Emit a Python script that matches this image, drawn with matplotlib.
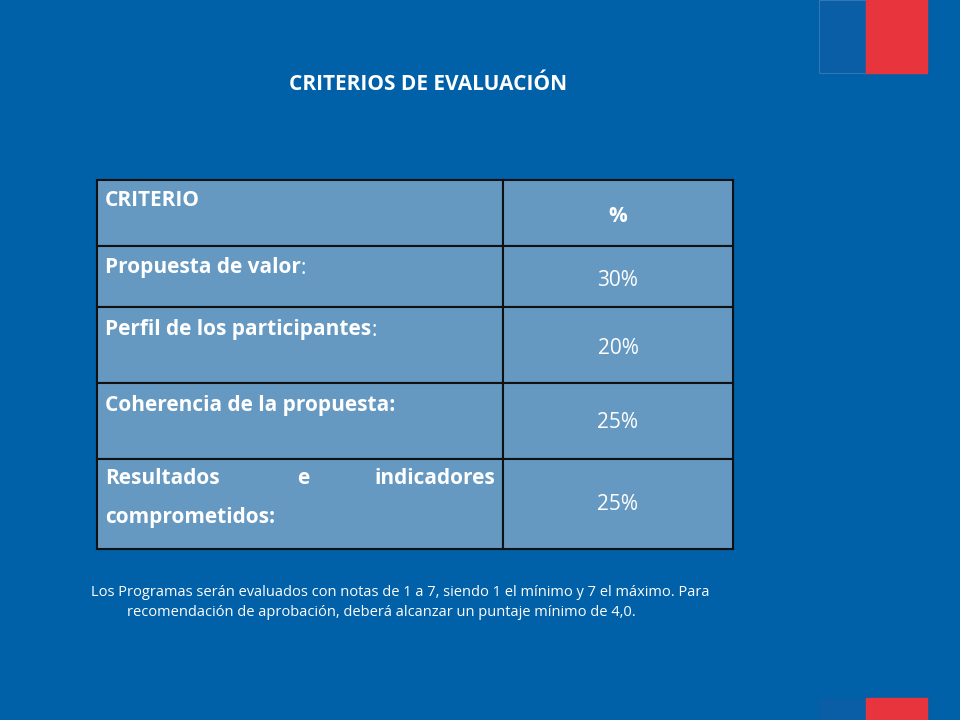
import matplotlib
matplotlib.use("Agg")
import matplotlib.pyplot as plt
from matplotlib.patches import Rectangle

title = "CRITERIOS DE EVALUACIÓN"
header = ["CRITERIO", "%"]
criteria = [["Propuesta de valor", ":"], ["Perfil de los participantes", ":"],
            ["Coherencia de la propuesta:", ""], ["Resultados e indicadores\ncomprometidos:", ""]]
percents = ["30%", "20%", "25%", "25%"]
note1 = "Los Programas serán evaluados con notas de 1 a 7, siendo 1 el mínimo y 7 el máximo. Para"
note2 = "recomendación de aprobación, deberá alcanzar un puntaje mínimo de 4,0."

BG = "#0060A8"
fig = plt.figure(figsize=(9.6, 7.2), dpi=100, facecolor=BG)
ax = fig.add_axes([0, 0, 1, 1])
ax.set_xlim(0, 960); ax.set_ylim(720, 0); ax.axis("off")
ax.add_patch(Rectangle((0, 0), 960, 720, color=BG))
ax.add_patch(Rectangle((819, 0), 47, 73, color="#0A5EA6", ec="#2F78B8", lw=0.8))
ax.add_patch(Rectangle((866, 0), 61, 73, color="#E8343C"))
ax.add_patch(Rectangle((819, 698), 47, 22, color="#0A5EA6"))
ax.add_patch(Rectangle((866, 698), 61, 22, color="#E8343C"))

F = "Open Sans"
ax.text(428, 84, title, ha="center", va="center", color="white", fontsize=15, fontweight="bold", family=F)

rows_y = [180, 246, 307, 383, 459, 549]
x0, xm, x1 = 97, 503, 733
CELL = "#6699C2"
for i in range(5):
    y, h = rows_y[i], rows_y[i + 1] - rows_y[i]
    ax.add_patch(Rectangle((x0, y), xm - x0, h, fc=CELL, ec="#111111", lw=1.5))
    ax.add_patch(Rectangle((xm, y), x1 - xm, h, fc=CELL, ec="#111111", lw=1.5))

ax.text(105, 200, header[0], ha="left", va="center", color="white", fontsize=15, fontweight="bold", family=F)
ax.text(618, 216, header[1], ha="center", va="center", color="white", fontsize=15, fontweight="bold", family=F)
label_y = [268, 330, 405]
for i in range(3):
    t = ax.text(105, label_y[i], criteria[i][0], ha="left", va="center", color="white",
                fontsize=15, fontweight="bold", family=F)
    if criteria[i][1]:
        ax.annotate(criteria[i][1], xycoords=t, xy=(1, 0.5), va="center", ha="left",
                    color="white", fontsize=15, family=F)
ax.text(105, 479, "Resultados", ha="left", va="center", color="white", fontsize=15, fontweight="bold", family=F)
ax.text(303, 479, "e", ha="center", va="center", color="white", fontsize=15, fontweight="bold", family=F)
ax.text(495, 479, "indicadores", ha="right", va="center", color="white", fontsize=15, fontweight="bold", family=F)
ax.text(105, 518, "comprometidos:", ha="left", va="center", color="white", fontsize=15, fontweight="bold", family=F)
pct_y = [280, 348, 423, 505]
for i, p in enumerate(percents):
    ax.text(618, pct_y[i], p, ha="center", va="center", color="white", fontsize=15, family=F)

ax.text(91, 592, note1, ha="left", va="center", color="white", fontsize=10.5, family=F)
ax.text(127, 613, note2, ha="left", va="center", color="white", fontsize=10.5, family=F)
fig.savefig("out.png", dpi=100, facecolor=BG)
